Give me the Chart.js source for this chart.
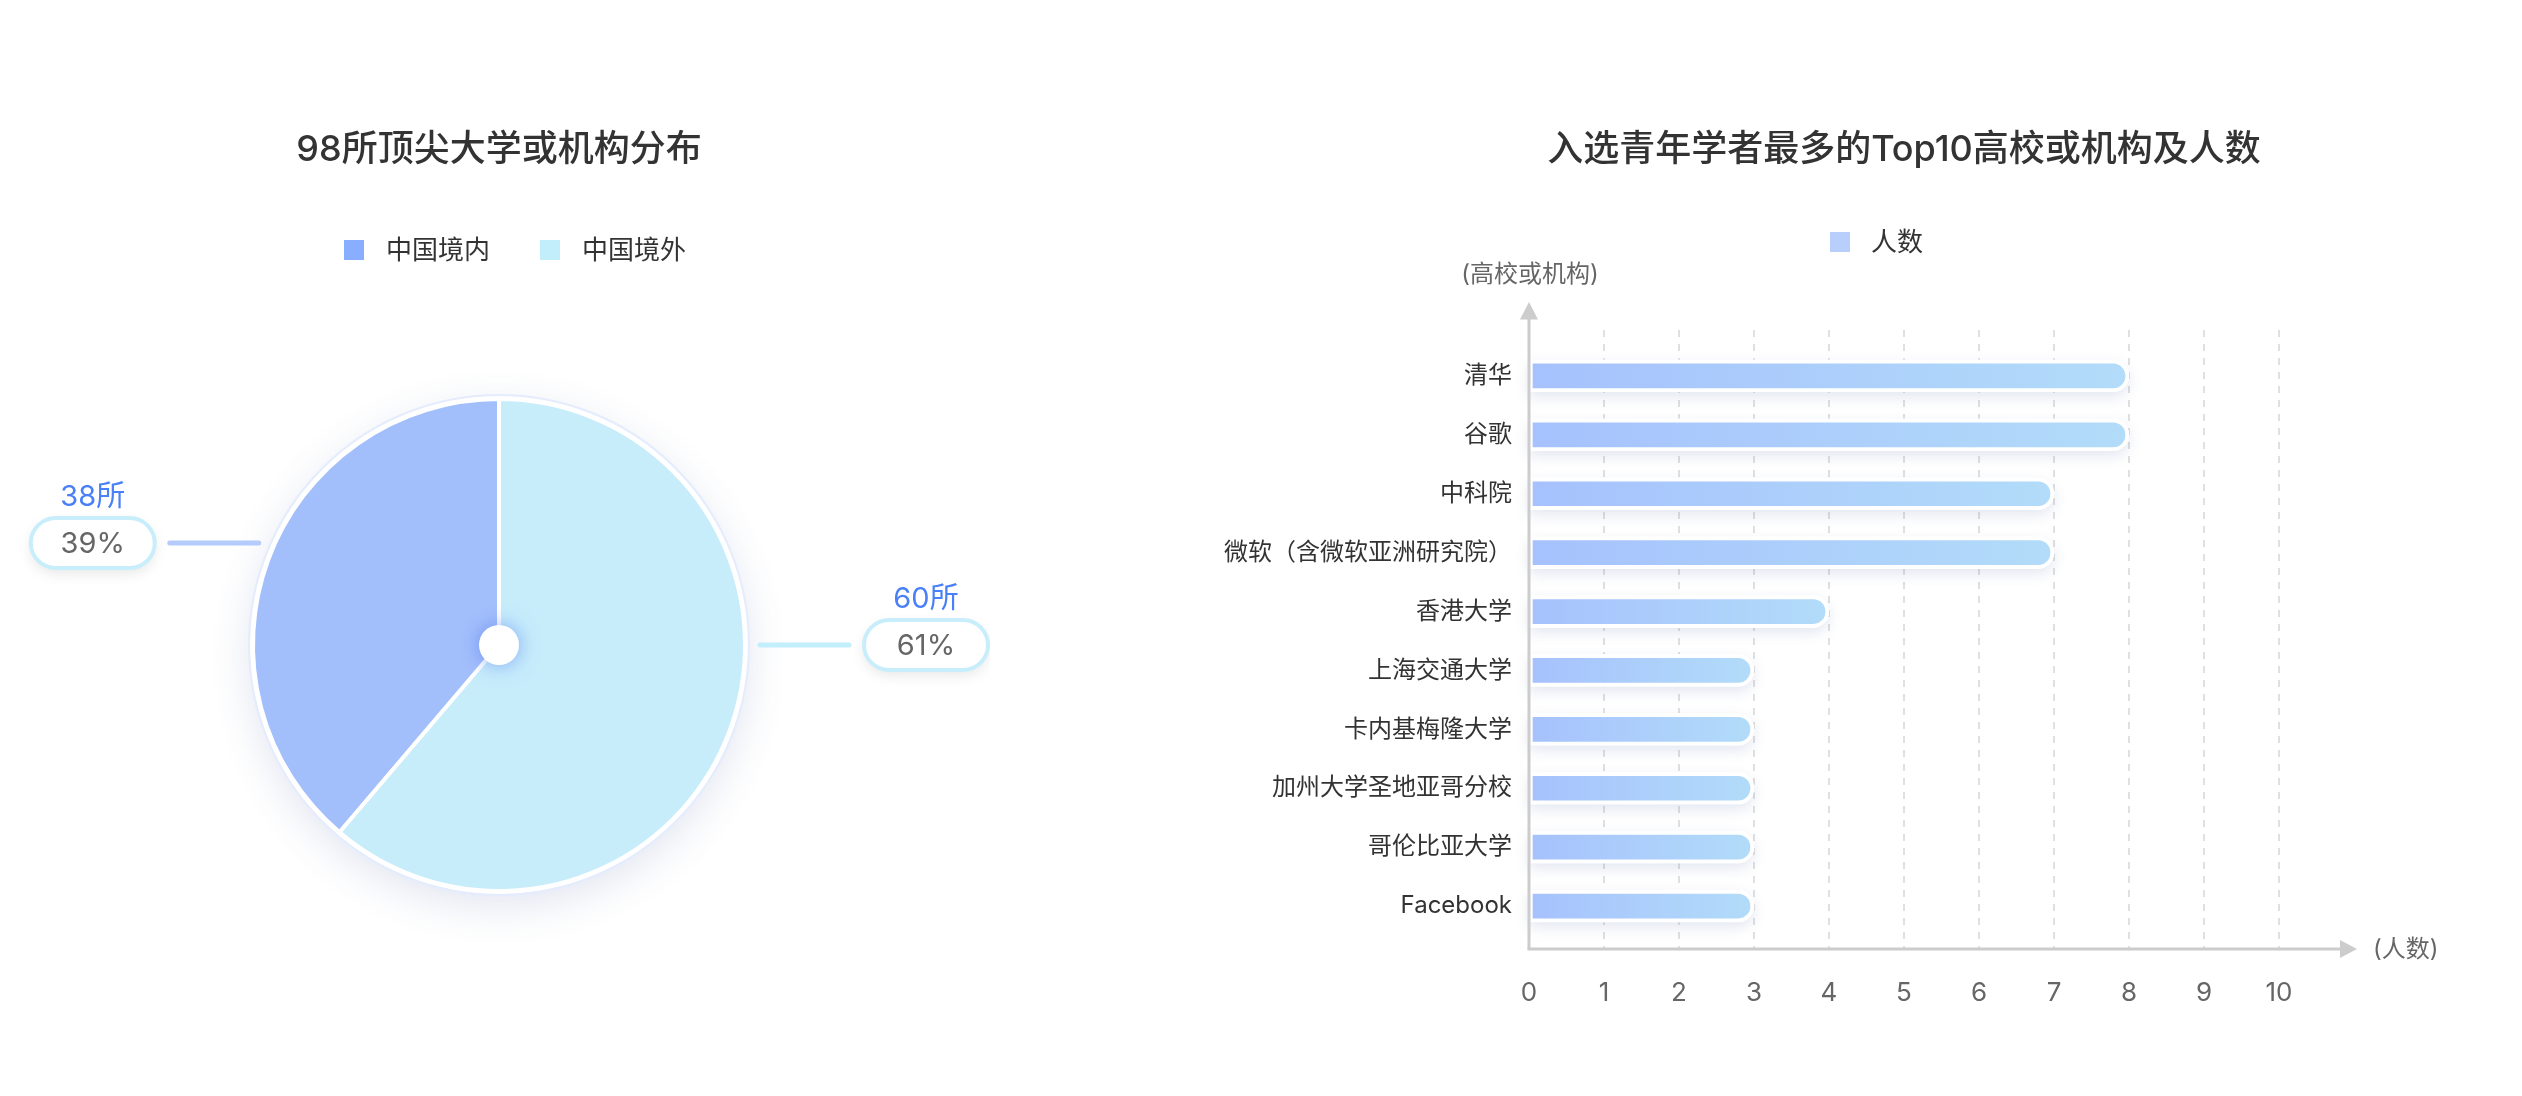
<!DOCTYPE html>
<html>
<head>
<meta charset="utf-8">
<script src="https://cdn.jsdelivr.net/npm/chart.js@4.4.1/dist/chart.umd.min.js"></script>
<style>
  html, body { margin: 0; padding: 0; background: #fff; }
  body { width: 2522px; height: 1096px; position: relative; overflow: hidden; }
  .box { position: absolute; top: 0; height: 1096px; }
  #pie-box { left: 0; width: 990px; }
  #bar-box { left: 1200px; width: 1322px; }
</style>
</head>
<body>
<div class="box" id="pie-box"><canvas id="pie-chart"></canvas></div>
<div class="box" id="bar-box"><canvas id="bar-chart"></canvas></div>
<script>
const FONT = '"Inter", "Noto Sans CJK SC", sans-serif';

// 98所顶尖大学或机构分布
const pieTitle = "98所顶尖大学或机构分布";
const pieLabels = ["中国境内", "中国境外"];
const pieValues = [38, 60];
const pieColors = ["#a3bffb", "#c7edfb"];
const pieLegendColors = ["#8aaeff", "#c2eefc"];
const pieLineColors = ["#b4cbfc", "#c3eefc"];

// 入选青年学者最多的Top10高校或机构及人数
const barTitle = "入选青年学者最多的Top10高校或机构及人数";
const schools = [
  "清华", "谷歌", "中科院", "微软（含微软亚洲研究院）", "香港大学",
  "上海交通大学", "卡内基梅隆大学", "加州大学圣地亚哥分校", "哥伦比亚大学", "Facebook"
];
const counts = [8, 8, 7, 7, 4, 3, 3, 3, 3, 3];
const countMax = 10;

const pieTotal = pieValues.reduce((a, b) => a + b, 0);

function pillPath(ctx, x, y, w, h) {
  const r = h / 2;
  ctx.beginPath();
  ctx.moveTo(x + r, y);
  ctx.lineTo(x + w - r, y);
  ctx.arc(x + w - r, y + r, r, -Math.PI / 2, Math.PI / 2);
  ctx.lineTo(x + r, y + h);
  ctx.arc(x + r, y + r, r, Math.PI / 2, Math.PI * 1.5);
  ctx.closePath();
}

// small square legend, drawn where the reference has it
const squareLegend = {
  id: "squareLegend",
  afterDraw(chart, args, opts) {
    const ctx = chart.ctx;
    ctx.save();
    ctx.font = `26px ${FONT}`;
    ctx.textBaseline = "middle";
    ctx.textAlign = "left";
    opts.items.forEach((it) => {
      ctx.fillStyle = it.color;
      ctx.fillRect(it.x, opts.y - 10, 20, 20);
      ctx.fillStyle = "#333";
      ctx.fillText(it.text, it.x + opts.gap, opts.y + 1);
    });
    ctx.restore();
  }
};

const pieDecor = {
  id: "pieDecor",
  beforeDatasetsDraw(chart) {
    const arc = chart.getDatasetMeta(0).data[0];
    if (!arc) return;
    const { x, y, outerRadius } = arc.getProps(["x", "y", "outerRadius"], true);
    const ctx = chart.ctx;
    ctx.save();
    ctx.shadowColor = "rgba(70, 95, 160, 0.16)";
    ctx.shadowBlur = 40;
    ctx.shadowOffsetY = 12;
    ctx.beginPath();
    ctx.arc(x, y, outerRadius + 3, 0, Math.PI * 2);
    ctx.fillStyle = "#fff";
    ctx.fill();
    ctx.restore();
    ctx.save();
    ctx.strokeStyle = "#e4ecfd";
    ctx.lineWidth = 2;
    ctx.beginPath();
    ctx.arc(x, y, outerRadius + 4, 0, Math.PI * 2);
    ctx.stroke();
    ctx.restore();
  },
  afterDatasetsDraw(chart, args, opts) {
    const meta = chart.getDatasetMeta(0);
    const ctx = chart.ctx;
    const first = meta.data[0];
    if (!first) return;
    const { x, y, outerRadius } = first.getProps(["x", "y", "outerRadius"], true);

    // white centre dot
    ctx.save();
    ctx.shadowColor = "rgba(70, 110, 240, 0.55)";
    ctx.shadowBlur = 20;
    ctx.beginPath();
    ctx.arc(x, y, 20, 0, Math.PI * 2);
    ctx.fillStyle = "#fff";
    ctx.fill();
    ctx.restore();

    pieValues.forEach((v, i) => {
      const a = (opts.anchorAngles[i] * Math.PI) / 180;
      const d = outerRadius + opts.gap;
      const px = x + d * Math.sin(a);
      const py = y - d * Math.cos(a);
      const side = Math.sin(a) < 0 ? -1 : 1;
      const ex = px + side * opts.lineLength;

      ctx.save();
      ctx.strokeStyle = pieLineColors[i];
      ctx.lineWidth = 5;
      ctx.lineCap = "round";
      ctx.beginPath();
      ctx.moveTo(px, py);
      ctx.lineTo(ex, py);
      ctx.stroke();
      ctx.restore();

      const w = 124, h = 50;
      const cx = ex + side * (15 + w / 2);
      ctx.save();
      ctx.shadowColor = "rgba(0, 0, 0, 0.10)";
      ctx.shadowBlur = 14;
      ctx.shadowOffsetY = 5;
      pillPath(ctx, cx - w / 2, py - h / 2, w, h);
      ctx.fillStyle = "#fff";
      ctx.fill();
      ctx.restore();
      ctx.save();
      pillPath(ctx, cx - w / 2, py - h / 2, w, h);
      ctx.strokeStyle = "#c9eefb";
      ctx.lineWidth = 4;
      ctx.stroke();

      ctx.textAlign = "center";
      ctx.textBaseline = "middle";
      ctx.font = `29px ${FONT}`;
      ctx.fillStyle = "#666";
      ctx.fillText(Math.round((v / pieTotal) * 100) + "%", cx, py + 1);
      ctx.fillStyle = "#4a80f7";
      ctx.fillText(v + "所", cx, py - 46);
      ctx.restore();
    });
  }
};

new Chart(document.getElementById("pie-chart"), {
  type: "pie",
  data: {
    labels: pieLabels,
    datasets: [{
      data: pieValues,
      backgroundColor: pieColors,
      borderColor: "#fff",
      borderWidth: 4,
      hoverOffset: 0
    }]
  },
  options: {
    responsive: true,
    maintainAspectRatio: false,
    animation: false,
    radius: 246,
    rotation: -(pieValues[0] / pieTotal) * 360,
    layout: { padding: { left: 8, right: 0, top: 0, bottom: 0 } },
    plugins: {
      legend: { display: false },
      tooltip: { enabled: false },
      title: {
        display: true,
        text: pieTitle,
        color: "#333",
        font: { family: FONT, size: 36, weight: "500" },
        padding: { top: 128.4, bottom: 22.4 }
      },
      squareLegend: {
        y: 250,
        gap: 42,
        items: pieLabels.map((t, i) => ({ text: t, color: pieLegendColors[i], x: [344, 540][i] }))
      },
      pieDecor: { anchorAngles: [-67, 90], gap: 15, lineLength: 89 }
    }
  },
  plugins: [squareLegend, pieDecor]
});

function barGradient(c) {
  const chart = c.chart;
  const xs = chart.scales.x;
  if (!chart.chartArea || !xs || c.raw == null) return "#a9c6fc";
  const x0 = xs.getPixelForValue(0);
  const x1 = xs.getPixelForValue(c.raw);
  const g = chart.ctx.createLinearGradient(x0, 0, x1, 0);
  g.addColorStop(0, "#a6c1fd");
  g.addColorStop(1, "#b2dcf9");
  return g;
}

const barAxes = {
  id: "barAxes",
  beforeDatasetsDraw(chart) {
    const ctx = chart.ctx;
    const area = chart.chartArea;
    const xs = chart.scales.x;
    const axisY = area.bottom + 13.5;

    // dashed grid lines
    ctx.save();
    ctx.strokeStyle = "#e0e0e0";
    ctx.lineWidth = 2;
    ctx.setLineDash([7, 7]);
    xs.ticks.forEach((t) => {
      if (t.value === 0) return;
      const gx = Math.round(xs.getPixelForValue(t.value));
      ctx.beginPath();
      ctx.moveTo(gx, area.top - 16.5);
      ctx.lineTo(gx, axisY);
      ctx.stroke();
    });
    ctx.restore();

    // soft bar shadows
    const meta = chart.getDatasetMeta(0);
    meta.data.forEach((bar) => {
      const { x, y, base, height } = bar.getProps(["x", "y", "base", "height"], true);
      const top = y - height / 2, r = height / 2;
      ctx.save();
      ctx.shadowColor = "rgba(80, 100, 170, 0.16)";
      ctx.shadowBlur = 14;
      ctx.shadowOffsetY = 5;
      ctx.beginPath();
      ctx.moveTo(base, top);
      ctx.lineTo(x - r, top);
      ctx.arc(x - r, y, r, -Math.PI / 2, Math.PI / 2);
      ctx.lineTo(base, top + height);
      ctx.closePath();
      ctx.fillStyle = "#fff";
      ctx.fill();
      ctx.restore();
    });
  },
  afterDatasetsDraw(chart) {
    const ctx = chart.ctx;
    const area = chart.chartArea;
    const axisY = area.bottom + 13.5;
    const ax = area.left;
    ctx.save();
    ctx.strokeStyle = "#cccccc";
    ctx.fillStyle = "#cccccc";
    ctx.lineWidth = 3;
    // y axis with arrow
    ctx.beginPath();
    ctx.moveTo(ax, axisY);
    ctx.lineTo(ax, area.top - 27.5);
    ctx.stroke();
    ctx.beginPath();
    ctx.moveTo(ax, area.top - 44.5);
    ctx.lineTo(ax - 9, area.top - 27);
    ctx.lineTo(ax + 9, area.top - 27);
    ctx.closePath();
    ctx.fill();
    // x axis with arrow
    ctx.beginPath();
    ctx.moveTo(ax - 1.5, axisY);
    ctx.lineTo(area.right + 62, axisY);
    ctx.stroke();
    ctx.beginPath();
    ctx.moveTo(area.right + 78, axisY);
    ctx.lineTo(area.right + 61, axisY - 9);
    ctx.lineTo(area.right + 61, axisY + 9);
    ctx.closePath();
    ctx.fill();

    ctx.font = `24px ${FONT}`;
    ctx.fillStyle = "#666";
    ctx.textBaseline = "middle";
    ctx.textAlign = "center";
    ctx.fillText("(高校或机构)", ax + 1, area.top - 71.5);
    ctx.textAlign = "left";
    ctx.fillText("(人数)", area.right + 94, axisY + 1);
    ctx.restore();
  }
};

new Chart(document.getElementById("bar-chart"), {
  type: "bar",
  data: {
    labels: schools,
    datasets: [{
      label: "人数",
      data: counts,
      backgroundColor: barGradient,
      borderColor: "#fff",
      borderWidth: 4,
      borderSkipped: false,
      borderRadius: { topLeft: 0, bottomLeft: 0, topRight: 16, bottomRight: 16 },
      barThickness: 32
    }]
  },
  options: {
    indexAxis: "y",
    responsive: true,
    maintainAspectRatio: false,
    animation: false,
    layout: { padding: { left: 0, right: 243, top: 0, bottom: 0 } },
    scales: {
      x: {
        min: 0,
        max: countMax,
        ticks: { stepSize: 1, color: "#666", font: { family: FONT, size: 26 }, padding: 42 },
        grid: { display: false, drawTicks: false },
        border: { display: false },
        afterFit(s) { s.height = 160.5; }
      },
      y: {
        ticks: { color: "#333", font: { family: FONT, size: 24 }, padding: 17 },
        grid: { display: false, drawTicks: false },
        border: { display: false },
        afterFit(s) { s.width = 329; }
      }
    },
    plugins: {
      legend: { display: false },
      tooltip: { enabled: false },
      title: {
        display: true,
        fullSize: false,
        text: barTitle,
        color: "#333",
        font: { family: FONT, size: 36, weight: "500" },
        padding: { top: 128.4, bottom: 174.9 }
      },
      squareLegend: {
        y: 242,
        gap: 41,
        items: [{ text: "人数", color: "#b8cffc", x: 1830 - 1200 }]
      }
    }
  },
  plugins: [squareLegend, barAxes]
});
</script>
</body>
</html>
